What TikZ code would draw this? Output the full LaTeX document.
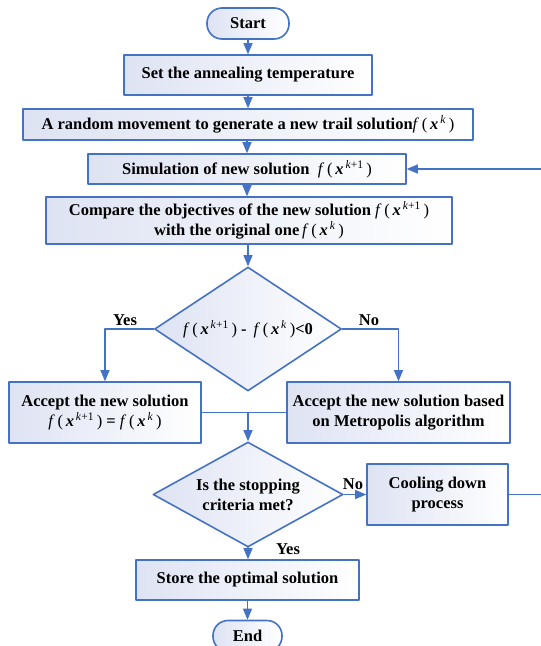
\documentclass[tikz,border=0pt]{standalone}
\usepackage{fontspec}
\setmainfont{Liberation Serif}
\usepackage{tikz}
\usetikzlibrary{arrows,shapes.geometric}
\definecolor{flowblue}{RGB}{68,114,196}
\definecolor{flowfill}{RGB}{222,227,243}
\newcommand{\fofx}[1]{\textmd{\textit{f}\,(\,\textbf{\textit{x}}\textsuperscript{\,#1}\,)}}
\tikzset{
  box/.style={draw=flowblue, line width=1.6pt, left color=flowfill, right color=white,
    font=\bfseries\fontsize{16.5}{20}\selectfont, align=center, inner sep=0pt},
  term/.style={box, rounded corners=15pt},
  decision/.style={box, diamond},
  flow/.style={draw=flowblue, line width=1.6pt},
  lbl/.style={font=\bfseries\fontsize{16.5}{20}\selectfont}
}

\begin{document}
\begin{tikzpicture}[line cap=round,line join=round,>=triangle 45,x=1pt,y=-1pt]
\useasboundingbox (0,0) rectangle (541,646);
\node[term, minimum width=82, minimum height=31] (start) at (248,23.5) {Start};
\node[box, minimum width=248, minimum height=40] (settemp) at (248,75) {Set the annealing temperature};
\node[box, minimum width=450, minimum height=31] (move) at (248,124.5) {A random movement to generate a new trail solution\fofx{\textit{k}}};
\node[box, minimum width=318, minimum height=30] (simul) at (247,169) {Simulation of new solution \ \fofx{\textit{k}+1}};
\node[box, minimum width=406, minimum height=47] (compare) at (249,220.5) {Compare the objectives of the new solution \fofx{\textit{k}+1}\\with the original one\,\fofx{\textit{k}}};
\node[decision, aspect=1.5, minimum width=187, minimum height=124] (dec1) at (248,329) {\fofx{\textit{k}+1} - \,\fofx{\textit{k}}<0};
\node[box, minimum width=192, minimum height=61] (accept) at (105,412.5) {Accept the new solution\\\fofx{\textit{k}+1} = \fofx{\textit{k}}};
\node[box, minimum width=223, minimum height=61] (metro) at (398.5,412.5) {Accept the new solution based\\on Metropolis algorithm};
\node[decision, aspect=1.8, minimum width=190, minimum height=105] (dec2) at (248,494.5) {Is the stopping\\criteria met?};
\node[box, minimum width=141, minimum height=61] (cool) at (437.5,494.5) {Cooling down\\process};
\node[box, minimum width=223, minimum height=40] (store) at (247.5,580) {Store the optimal solution};
\node[term, minimum width=69, minimum height=31] (end) at (247.5,636) {End};
\coordinate (loop) at (546,0);
% main line
\draw[flow,->] (start) -- (settemp);
\draw[flow,->] (settemp) -- (move);
\draw[flow,->] (move.south -| simul.north) -- (simul);
\draw[flow,->] (simul.south) -- (simul.south |- compare.north);
\draw[flow,->] (compare.south -| dec1.north) -- (dec1);
\draw[flow,->] (dec1.west) -| (accept.north);
\draw[flow,->] (dec1.east) -| (metro.north);
\draw[flow] (accept.east) -- (metro.west);
\draw[flow,->] (accept.east -| dec2.north) -- (dec2.north);
\draw[flow,->] (dec2.east) -- (cool.west);
\draw[flow,->] (dec2.south) -- (dec2.south |- store.north);
\draw[flow,->] (store.south -| end.north) -- (end.north);
\draw[flow,->] (cool.east) -- (cool.east -| loop) |- (simul.east);
% labels
\node[lbl] (yes1) at (125,320) {Yes};
\node[lbl] (no1) at (369,320) {No};
\node[lbl] (no2) at (353,484) {No};
\node[lbl] (yes2) at (288,549) {Yes};
\end{tikzpicture}
\end{document}
